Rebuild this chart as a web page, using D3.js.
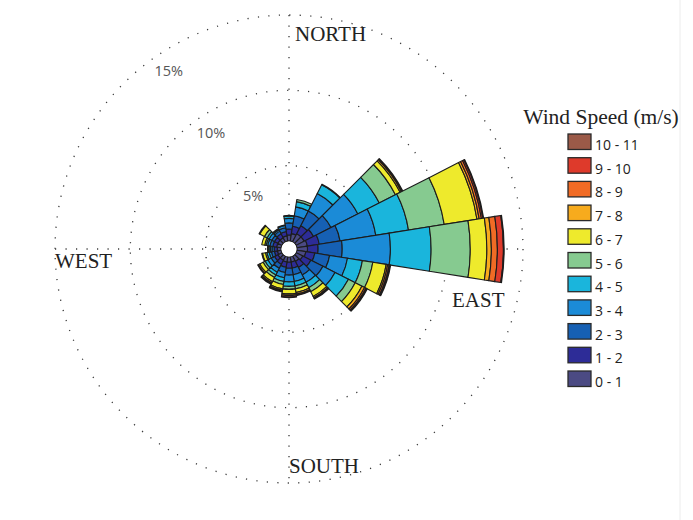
<!DOCTYPE html>
<html>
<head>
<meta charset="utf-8">
<script src="https://cdn.jsdelivr.net/npm/d3@7/dist/d3.min.js"></script>
<style>
  html, body { margin: 0; padding: 0; background: #fff; }
  svg { display: block; }
</style>
</head>
<body>
<svg id="chart" width="693" height="520"></svg>
<script>
// Compass bearings (degrees clockwise from north) of the 20 direction sectors
const directions = [0, 18, 36, 54, 72, 90, 108, 126, 144, 162, 180, 198, 216, 234, 252, 270, 288, 306, 324, 342];

// Wind speed classes (m/s), lowest first
const speedBins = ["0 - 1", "1 - 2", "2 - 3", "3 - 4", "4 - 5", "5 - 6", "6 - 7", "7 - 8", "8 - 9", "9 - 10", "10 - 11"];
const speedColors = ["#4b4a83", "#2d2c97", "#1660b4", "#1b8bd7", "#1ab5dc", "#86ca90", "#eeea2c", "#f7ab1d", "#f16b25", "#de3a2b", "#9b5a48"];

// Frequency (%) per direction (rows follow `directions`), one column per speed class
const frequency = [
  [0.40, 0.40, 0.40, 0.30, 0.15, 0.05, 0, 0, 0, 0, 0],
  [0.50, 0.50, 0.70, 0.60, 0.35, 0.15, 0, 0, 0, 0, 0],
  [0.60, 0.60, 1.10, 1.30, 0.65, 0.05, 0, 0, 0, 0, 0],
  [0.60, 0.70, 1.30, 2.00, 1.60, 1.20, 0.35, 0.10, 0.05, 0.05, 0],
  [0.70, 0.80, 1.40, 2.40, 2.20, 2.40, 2.20, 0.15, 0.15, 0.10, 0.05],
  [0.70, 0.70, 1.60, 3.20, 2.70, 2.60, 1.10, 0.30, 0.40, 0.40, 0.05],
  [0.60, 0.60, 1.00, 1.20, 1.00, 0.70, 0.90, 0.10, 0.10, 0.05, 0.05],
  [0.50, 0.60, 0.90, 0.90, 1.00, 0.50, 0.50, 0.20, 0.10, 0.05, 0.05],
  [0.40, 0.45, 0.55, 0.55, 0.40, 0.30, 0.35, 0.10, 0.05, 0.05, 0],
  [0.35, 0.40, 0.45, 0.45, 0.30, 0.20, 0.25, 0.10, 0.05, 0.05, 0],
  [0.35, 0.40, 0.45, 0.45, 0.30, 0.20, 0.30, 0.10, 0.10, 0.05, 0],
  [0.35, 0.35, 0.35, 0.35, 0.25, 0.20, 0.30, 0.10, 0.05, 0.05, 0],
  [0.30, 0.30, 0.30, 0.30, 0.20, 0.20, 0.30, 0.10, 0.05, 0.05, 0],
  [0.30, 0.25, 0.25, 0.25, 0.20, 0.15, 0.25, 0.10, 0.05, 0, 0],
  [0.25, 0.20, 0.20, 0.15, 0.15, 0.10, 0.20, 0.05, 0, 0, 0],
  [0.25, 0.20, 0.15, 0.10, 0.10, 0.05, 0.05, 0, 0, 0, 0],
  [0.30, 0.25, 0.20, 0.15, 0.10, 0.10, 0.20, 0, 0, 0, 0],
  [0.30, 0.25, 0.20, 0.20, 0.15, 0.20, 0.35, 0.05, 0, 0, 0],
  [0.30, 0.30, 0.20, 0.10, 0.05, 0.05, 0, 0, 0, 0, 0],
  [0.35, 0.30, 0.25, 0.15, 0.05, 0, 0, 0, 0, 0, 0]
];

// Reference rings (%) and compass labels
const ringTicks = [5, 10, 15];
const ringLabels = ["5%", "10%", "15%"];
const compassLabels = ["NORTH", "EAST", "SOUTH", "WEST"];
const legendTitle = "Wind Speed (m/s)";

const svg = d3.select("#chart");
const cx = 289, cy = 249;
const hole = 8;
const sectorWidth = 18;

// Radial scale: % frequency -> pixels, starting at the edge of the centre hole
const r = d3.scaleLinear().domain([0, 15]).range([hole, 234]);

const g = svg.append("g").attr("transform", `translate(${cx},${cy})`);

// Dotted grid: rings and the N-S / E-W cross
const grid = g.append("g")
  .attr("fill", "none")
  .attr("stroke", "#3a3a3a")
  .attr("stroke-width", 1.3)
  .attr("stroke-dasharray", "1.2,9.3");
grid.selectAll("circle").data(ringTicks).join("circle").attr("r", d => r(d));
grid.append("line").attr("x1", 0).attr("x2", 0).attr("y1", -r(15)).attr("y2", r(15));
grid.append("line").attr("y1", 0).attr("y2", 0).attr("x1", -r(15)).attr("x2", r(15));

// Stacked petals
const toRad = Math.PI / 180;
const arc = d3.arc();
const segments = [];
directions.forEach((dir, i) => {
  let cum = 0;
  frequency[i].forEach((v, k) => {
    if (v > 0) {
      segments.push({
        startAngle: (dir - sectorWidth / 2) * toRad,
        endAngle: (dir + sectorWidth / 2) * toRad,
        innerRadius: r(cum),
        outerRadius: r(cum + v),
        color: speedColors[k]
      });
    }
    cum += v;
  });
});

g.append("g").selectAll("path").data(segments).join("path")
  .attr("d", d => arc(d))
  .attr("fill", d => d.color)
  .attr("stroke", "#1c1c1c")
  .attr("stroke-width", 1.1)
  .attr("stroke-linejoin", "round");

g.append("circle").attr("r", hole - 0.5).attr("fill", "#fff");

// Ring percentage labels along the upper-left diagonal
const labelAngle = 124 * toRad;
g.append("g").selectAll("text").data(ringTicks).join("text")
  .attr("x", d => Math.cos(labelAngle) * (r(d) - 19))
  .attr("y", d => -Math.sin(labelAngle) * (r(d) - 19))
  .attr("dy", "0.36em")
  .attr("text-anchor", "middle")
  .attr("font-family", "'Open Sans', sans-serif")
  .attr("font-size", 14.5)
  .attr("fill", "#555")
  .text((d, i) => ringLabels[i]);

// Compass labels
const compassPos = [
  { x: 295, y: 41 },
  { x: 452, y: 307 },
  { x: 289, y: 473 },
  { x: 55, y: 268 }
];
svg.append("g").selectAll("text").data(compassLabels).join("text")
  .attr("x", (d, i) => compassPos[i].x)
  .attr("y", (d, i) => compassPos[i].y)
  .attr("font-family", "'Liberation Serif', 'Times New Roman', serif")
  .attr("font-size", 21)
  .attr("fill", "#222")
  .text(d => d);

// Legend: highest class on top
const legend = svg.append("g");
legend.append("text")
  .attr("x", 601).attr("y", 124)
  .attr("text-anchor", "middle")
  .attr("font-family", "'Liberation Serif', 'Times New Roman', serif")
  .attr("font-size", 21.5)
  .attr("fill", "#222")
  .text(legendTitle);

const order = d3.range(speedBins.length).reverse();
const ly = d3.scalePoint().domain(order).range([134, 371]);
const rows = legend.selectAll("g.row").data(order).join("g")
  .attr("class", "row")
  .attr("transform", k => `translate(568,${ly(k)})`);
rows.append("rect")
  .attr("width", 23).attr("height", 15.5)
  .attr("fill", k => speedColors[k])
  .attr("stroke", "#2a2a2a")
  .attr("stroke-width", 1.3);
rows.append("text")
  .attr("x", 27).attr("y", 9)
  .attr("dy", "0.5em")
  .attr("font-family", "'Open Sans', sans-serif")
  .attr("font-size", 14)
  .attr("fill", "#222")
  .text(k => speedBins[k]);

// Thin frame line on the right
svg.append("line")
  .attr("x1", 680).attr("x2", 680).attr("y1", 0).attr("y2", 520)
  .attr("stroke", "#ececec").attr("stroke-width", 1);
</script>
</body>
</html>
